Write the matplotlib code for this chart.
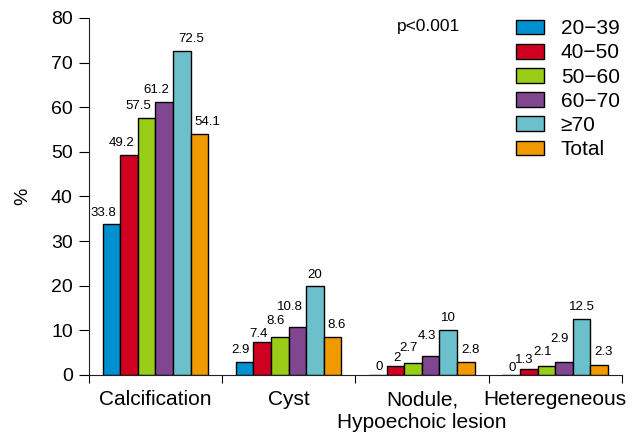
import matplotlib.pyplot as plt
import numpy as np

plt.rcParams['font.family'] = ['Liberation Sans', 'DejaVu Sans']

categories = ['Calcification', 'Cyst', 'Nodule,\nHypoechoic lesion', 'Heteregeneous']
groups = ['20\u221239', '40\u221250', '50\u221260', '60\u221270', '\u226570', 'Total']
values = [
    [33.8, 2.9, 0, 0],      # 20-39
    [49.2, 7.4, 2, 1.3],    # 40-50
    [57.5, 8.6, 2.7, 2.1],  # 50-60
    [61.2, 10.8, 4.3, 2.9], # 60-70
    [72.5, 20, 10, 12.5],   # >=70
    [54.1, 8.6, 2.8, 2.3],  # Total
]
colors = ['#0090d0', '#d00020', '#9acd18', '#80468f', '#6cc0cc', '#f09a00']

# value label placement (pixels): alignment, horizontal shift, gap above bar
label_ha = ['right', 'right', 'right', 'right', 'center', 'left']
label_dx = [[5] * 4, [5] * 4, [5] * 4, [5] * 4, [9, 0, 0, 0], [-5] * 4]
label_dy = [[8, 9, 5, 4], [9, 5, 5, 6], [9, 13, 12, 11], [9, 17, 17, 20],
            [9, 8, 9, 9], [9, 9, 9, 10]]

fig = plt.figure(figsize=(6.39, 4.37), dpi=100)
ax = fig.add_axes([0.139, 0.142, 0.834, 0.817])
px = 72 / fig.dpi

x = np.arange(len(categories))
w = 0.132
for i, (g, vals) in enumerate(zip(groups, values)):
    pos = x + (i - 2.5) * w
    ax.bar(pos, vals, width=w, color=colors[i], edgecolor='black', linewidth=1, label=g)
    for j, (p, v) in enumerate(zip(pos, vals)):
        ax.annotate(f'{v:g}', (p, v), xytext=(label_dx[i][j] * px, label_dy[i][j] * px),
                    textcoords='offset points', ha=label_ha[i], va='baseline', fontsize=9.5)

ax.set_xlim(-0.5, 3.5)
ax.set_ylim(0, 80)
ax.set_yticks(range(0, 81, 10))
ax.set_xticks([-0.5, 0.5, 1.5, 2.5, 3.5])
ax.set_xticklabels([])
first_lines = [c.split('\n')[0] for c in categories]
ax.set_xticks(x, minor=True)
ax.set_xticklabels(first_lines, minor=True, fontsize=15)
for xi, c in zip(x, categories):
    if '\n' in c:
        ax.annotate(c.split('\n')[1], (xi, 0), xytext=(0, -53 * px), textcoords='offset points',
                    ha='center', va='baseline', fontsize=15, annotation_clip=False)
ax.tick_params(axis='x', which='minor', length=0, pad=11)
ax.tick_params(axis='x', which='major', length=6, direction='out')
ax.tick_params(axis='y', labelsize=14, length=7, pad=4.5)
ax.set_ylabel('%', fontsize=14, labelpad=14)
ax.spines['top'].set_visible(False)
ax.spines['right'].set_visible(False)
ax.spines['left'].set_color('#222222')
ax.spines['bottom'].set_color('#222222')

ax.text(1.81, 78, 'p<0.001', fontsize=12.5, va='center')
ax.legend(loc='upper left', bbox_to_anchor=(0.8075, 0.956), bbox_transform=fig.transFigure,
          frameon=False, fontsize=15, borderpad=0, borderaxespad=0,
          handlelength=1.35, handleheight=0.72, labelspacing=0.25, handletextpad=0.8)

fig.savefig('out.png', dpi=100)
